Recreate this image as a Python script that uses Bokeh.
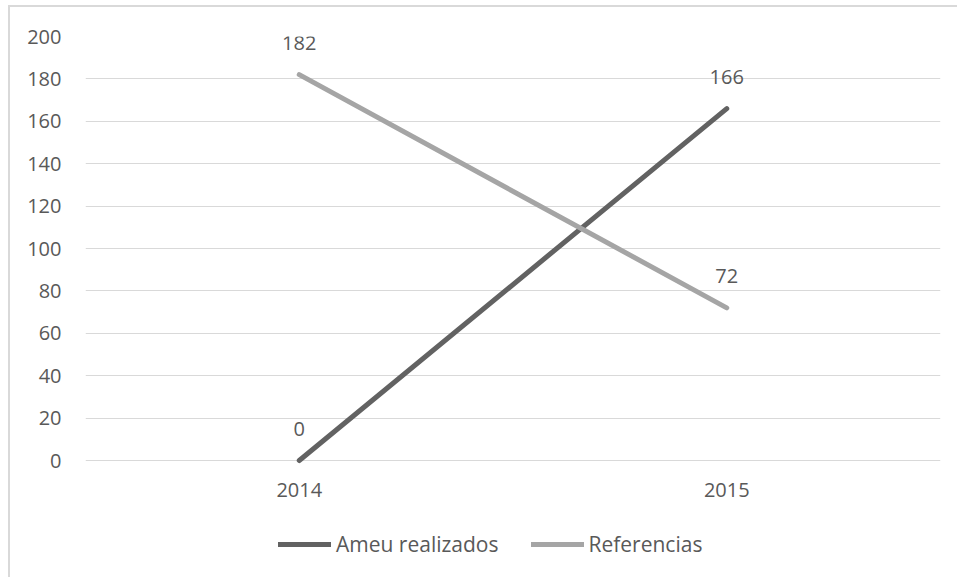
from bokeh.plotting import figure
from bokeh.models import (Range1d, FactorRange, FixedTicker, Legend, LegendItem,
                          ColumnDataSource, LabelSet)
from bokeh.core.properties import value
from bokeh.embed import file_html
from bokeh.resources import INLINE

years = ["2014", "2015"]
ameu = [0, 166]
referencias = [182, 72]
series_names = ["Ameu realizados", "Referencias"]
y_ticks = [0, 20, 40, 60, 80, 100, 120, 140, 160, 180, 200]

FONT = "Open Sans"
TXT = "#595959"
DARK = "#626262"
LIGHT = "#a5a5a5"

# frame runs to the bottom of the canvas so the legend (drawn in the frame) is not clipped;
# value 0 sits 424 px below value 200 (2.12 px per unit), the rest of the frame is blank
Y_MAX = 200
FRAME_H = 543
Y_MIN = Y_MAX - FRAME_H / (424 / Y_MAX)

p = figure(width=949, height=572, output_backend="svg", toolbar_location=None,
           x_range=FactorRange(factors=years), y_range=Range1d(Y_MIN, Y_MAX),
           min_border_left=75, min_border_right=19, min_border_top=29, min_border_bottom=0)
p.styles = {"margin-left": "8px", "margin-top": "5px",
            "border-left": "2px solid #d9d9d9", "border-top": "2px solid #d9d9d9"}
p.outline_line_color = None
p.background_fill_color = "white"
p.border_fill_color = "white"

p.yaxis.ticker = FixedTicker(ticks=y_ticks)
p.xaxis.fixed_location = 0
for ax in (p.xaxis[0], p.yaxis[0]):
    ax.axis_line_color = None
    ax.major_tick_line_color = None
    ax.minor_tick_line_color = None
    ax.major_label_text_font = FONT
    ax.major_label_text_font_size = "20px"
    ax.major_label_text_color = TXT
p.yaxis.major_label_standoff = 18
p.xaxis.major_label_standoff = 16
p.xgrid.grid_line_color = None
p.ygrid.grid_line_color = "#d9d9d9"
p.ygrid.grid_line_width = 1

r1 = p.line(years, ameu, line_width=5, line_color=DARK, line_cap="round", line_join="round")
r2 = p.line(years, referencias, line_width=5, line_color=LIGHT, line_cap="round", line_join="round")

for vals in (ameu, referencias):
    src = ColumnDataSource(dict(x=years, y=vals, t=[str(v) for v in vals]))
    p.add_layout(LabelSet(x="x", y="y", text="t", source=src, y_offset=32,
                          text_align="center", text_baseline="middle",
                          text_font=value(FONT), text_font_size="20px", text_color=TXT))

legend = Legend(items=[LegendItem(label=series_names[0], renderers=[r1]),
                       LegendItem(label=series_names[1], renderers=[r2])],
                orientation="horizontal", location=(193, 21),
                glyph_width=53, glyph_height=20, label_standoff=5, spacing=32,
                padding=5, margin=0, label_text_font=FONT, label_text_font_size="21px",
                label_text_color=TXT, border_line_color=None, background_fill_alpha=0)
p.add_layout(legend, "center")

open("out.html", "w").write(file_html(p, INLINE))
